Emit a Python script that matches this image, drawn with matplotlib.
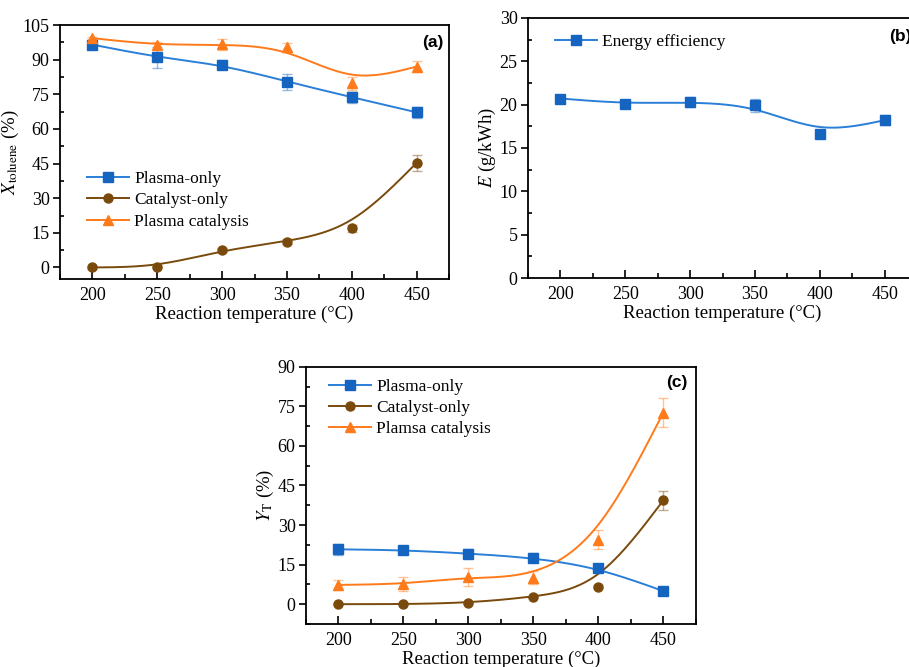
import numpy as np
import matplotlib
matplotlib.use("Agg")
import matplotlib.pyplot as plt
from matplotlib.ticker import MultipleLocator

plt.rcParams['font.family'] = ['Liberation Serif', 'DejaVu Serif']
plt.rcParams['mathtext.fontset'] = 'stix'

# data
temp = np.array([200, 250, 300, 350, 400, 450])

# (a) toluene conversion
conv_plasma = np.array([96.5, 91.0, 87.8, 80.5, 73.7, 67.2])
conv_plasma_err = np.array([1.0, 4.5, 2.0, 3.5, 2.5, 2.5])
conv_cat = np.array([0.0, 0.2, 7.5, 11.2, 17.0, 45.3])
conv_cat_err = np.array([0.5, 0.5, 1.0, 1.0, 1.5, 3.5])
conv_pc = np.array([99.3, 96.3, 96.6, 95.3, 79.7, 87.0])
conv_pc_err = np.array([0.5, 1.5, 2.5, 2.0, 3.0, 2.2])

# (b) energy efficiency
energy = np.array([20.7, 20.1, 20.3, 19.9, 16.6, 18.2])
energy_err = np.array([0.3, 0.4, 0.6, 0.7, 0.5, 0.6])

# (c) yield
yld_plasma = np.array([20.8, 20.5, 19.2, 17.6, 13.8, 5.0])
yld_plasma_err = np.array([2.0, 1.5, 1.8, 1.8, 1.2, 0.5])
yld_cat = np.array([0.0, 0.0, 0.5, 2.7, 6.7, 39.3])
yld_cat_err = np.array([0.3, 0.3, 0.3, 0.5, 0.5, 3.5])
yld_pc = np.array([7.3, 7.6, 10.3, 10.0, 24.5, 72.5])
yld_pc_err = np.array([1.8, 2.6, 3.5, 2.5, 3.5, 5.5])

BLUE = '#1565C0'
BLUE_L = '#2a7fd8'
BROWN = '#7a4a0c'
ORANGE = '#ff7a1a'


def bspline(x, y, n=40):
    # uniform cubic B-spline, data as control points, ends pinned
    px = np.r_[2 * x[0] - x[1], x, 2 * x[-1] - x[-2]].astype(float)
    py = np.r_[2 * y[0] - y[1], y, 2 * y[-1] - y[-2]].astype(float)
    t = np.linspace(0, 1, n)
    b0 = (1 - t) ** 3 / 6
    b1 = (3 * t**3 - 6 * t**2 + 4) / 6
    b2 = (-3 * t**3 + 3 * t**2 + 3 * t + 1) / 6
    b3 = t**3 / 6
    xs, ys = [], []
    for i in range(len(px) - 3):
        xs.append(b0 * px[i] + b1 * px[i+1] + b2 * px[i+2] + b3 * px[i+3])
        ys.append(b0 * py[i] + b1 * py[i+1] + b2 * py[i+2] + b3 * py[i+3])
    return np.concatenate(xs), np.concatenate(ys)


def series(ax, y, err, mcol, lcol, marker, label, ms):
    ax.errorbar(temp, y, yerr=err, fmt='none', ecolor=mcol, alpha=0.45,
                elinewidth=1.0, capsize=3.5, capthick=1.0, zorder=2)
    sx, sy = bspline(temp, y)
    ax.plot(sx, sy, color=lcol, lw=1.4, zorder=3)
    ax.plot(temp, y, ls='none', marker=marker, ms=ms, color=mcol, zorder=4)
    # legend proxy
    ax.plot([], [], color=lcol, lw=1.4, marker=marker, ms=ms,
            mfc=mcol, mec=mcol, label=label)


def style(ax, ylim, ymaj, ylabel):
    ax.set_xlim(175, 475)
    ax.set_ylim(*ylim)
    ax.xaxis.set_major_locator(MultipleLocator(50))
    ax.xaxis.set_minor_locator(MultipleLocator(25))
    ax.yaxis.set_major_locator(MultipleLocator(ymaj))
    ax.yaxis.set_minor_locator(MultipleLocator(ymaj / 2))
    ax.tick_params(axis='x', which='both', direction='in', labelsize=13)
    ax.tick_params(axis='x', which='major', length=6, width=1.2, pad=6)
    ax.tick_params(axis='x', which='minor', length=3.5, width=1.2)
    ax.tick_params(axis='y', which='major', direction='out', length=5,
                   width=1.2, labelsize=13, pad=2.5)
    ax.tick_params(axis='y', which='minor', direction='in', length=3,
                   width=1.2)
    for sp in ax.spines.values():
        sp.set_linewidth(1.3)
    ax.set_xlabel('Reaction temperature (°C)', fontsize=13.5, labelpad=1)
    ax.set_ylabel(ylabel, fontsize=13.5, labelpad=1)


fig = plt.figure(figsize=(9.09, 6.67), dpi=100)

ax1 = fig.add_axes([0.066, 0.5817, 0.428, 0.3808])
series(ax1, conv_plasma, conv_plasma_err, BLUE, BLUE_L, 's', 'Plasma-only', 7)
series(ax1, conv_cat, conv_cat_err, BROWN, BROWN, 'o', 'Catalyst-only', 6.5)
series(ax1, conv_pc, conv_pc_err, ORANGE, ORANGE, '^', 'Plasma catalysis', 7.5)
style(ax1, (-5, 105), 15, r'$X_{\mathrm{toluene}}$ (%)')
ax1.legend(loc='center left', bbox_to_anchor=(0.03, 0.31), frameon=False,
           fontsize=12.5, handlelength=2.4, labelspacing=0.3, handletextpad=0.3)
ax1.text(0.985, 0.93, '(a)', transform=ax1.transAxes, ha='right', va='center',
         fontsize=12.5, fontweight='bold', family='Liberation Sans')

ax2 = fig.add_axes([0.5809, 0.5832, 0.428, 0.390])
series(ax2, energy, energy_err, BLUE, BLUE_L, 's', 'Energy efficiency', 7)
style(ax2, (0, 30), 5, r'$E$ (g/kWh)')
ax2.legend(loc='center left', bbox_to_anchor=(0.03, 0.908), frameon=False,
           fontsize=12.5, handlelength=2.4, handletextpad=0.3)
ax2.text(0.985, 0.93, '(b)', transform=ax2.transAxes, ha='right', va='center',
         fontsize=12.5, fontweight='bold', family='Liberation Sans')

ax3 = fig.add_axes([0.3366, 0.0645, 0.4287, 0.3857])
series(ax3, yld_plasma, yld_plasma_err, BLUE, BLUE_L, 's', 'Plasma-only', 7)
series(ax3, yld_cat, yld_cat_err, BROWN, BROWN, 'o', 'Catalyst-only', 6.5)
series(ax3, yld_pc, yld_pc_err, ORANGE, ORANGE, '^', 'Plamsa catalysis', 7.5)
style(ax3, (-7.5, 90), 15, r'$Y_{\mathrm{T}}$ (%)')
ax3.legend(loc='center left', bbox_to_anchor=(0.02, 0.84), frameon=False,
           fontsize=12.5, handlelength=2.4, labelspacing=0.3, handletextpad=0.3)
ax3.text(0.978, 0.937, '(c)', transform=ax3.transAxes, ha='right', va='center',
         fontsize=12.5, fontweight='bold', family='Liberation Sans')

fig.savefig('out.png', dpi=100)
